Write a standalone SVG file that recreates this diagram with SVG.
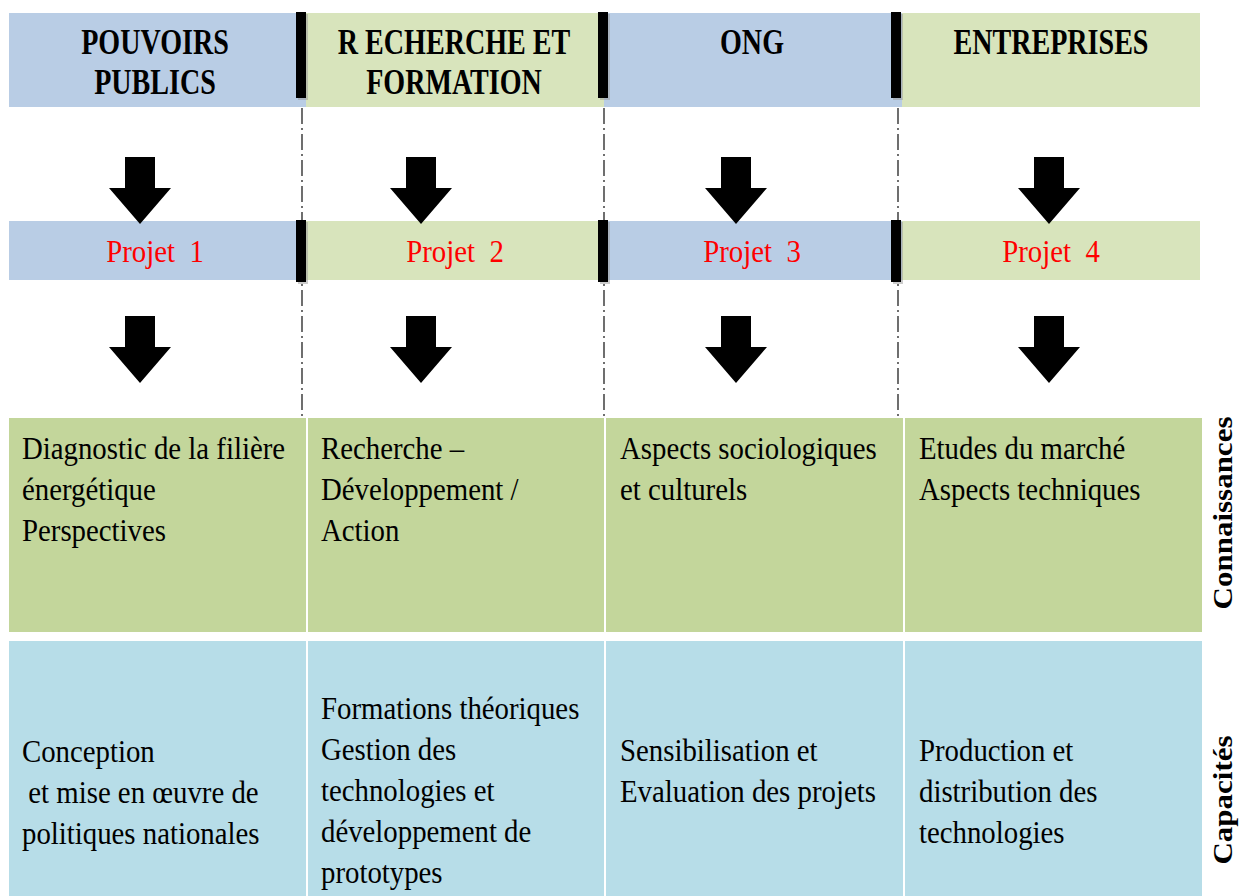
<svg xmlns="http://www.w3.org/2000/svg" xmlns:xlink="http://www.w3.org/1999/xlink" width="1245" height="896" viewBox="0 0 1245 896">
<style>
text{font-family:'Liberation Serif',serif}
.t{font-size:32px;fill:#000}
.hb{font-size:36px;font-weight:bold;fill:#000}
.pj{font-size:32px;fill:#ff0000;word-spacing:8px}
.side{font-size:31px;font-weight:bold;fill:#000}
.blue{fill:#b9cde5}
.green{fill:#d8e4bc}
.conn{fill:#c3d69b;stroke:#ffffff;stroke-width:2}
.cap{fill:#b7dde8;stroke:#ffffff;stroke-width:2}
.bar{fill:#000}
.shadow{fill:#9a9a9a;opacity:0.5}
.dd{stroke:#222;stroke-width:1.3;fill:none;stroke-dasharray:16 4 2 4}
</style>
<defs>
<path id="arrow" d="M-15,0 H15 V31 H31 L0,67 L-31,31 H-15 Z" fill="#000"/>
</defs>
<rect width="1245" height="896" fill="#ffffff"/>

<g id="connectors">
<line class="dd" x1="302" y1="108" x2="302" y2="416"/>
<line class="dd" x1="604" y1="108" x2="604" y2="416"/>
<line class="dd" x1="898" y1="108" x2="898" y2="416"/>
</g>

<g id="header-pouvoirs">
<rect class="blue" x="9" y="13" width="297" height="94"/>
<text class="hb" font-family="Liberation Serif, serif" text-anchor="middle" transform="translate(155,54) scale(0.78,1)"><tspan x="0" y="0">POUVOIRS</tspan><tspan x="0" y="40">PUBLICS</tspan></text>
</g>
<g id="header-recherche">
<rect class="green" x="306" y="13" width="298" height="94"/>
<text class="hb" font-family="Liberation Serif, serif" text-anchor="middle" transform="translate(454,54) scale(0.78,1)"><tspan x="0" y="0">R ECHERCHE ET</tspan><tspan x="0" y="40">FORMATION</tspan></text>
</g>
<g id="header-ong">
<rect class="blue" x="604" y="13" width="298" height="94"/>
<text class="hb" font-family="Liberation Serif, serif" text-anchor="middle" transform="translate(752,54) scale(0.78,1)">ONG</text>
</g>
<g id="header-entreprises">
<rect class="green" x="902" y="13" width="298" height="94"/>
<text class="hb" font-family="Liberation Serif, serif" text-anchor="middle" transform="translate(1051,54) scale(0.78,1)">ENTREPRISES</text>
</g>
<g id="header-bars">
<rect class="shadow" x="298" y="14" width="10" height="86"/>
<rect class="bar" x="296" y="12" width="10" height="86"/>
<rect class="shadow" x="600" y="14" width="10" height="86"/>
<rect class="bar" x="598" y="12" width="10" height="86"/>
<rect class="shadow" x="893" y="14" width="10" height="86"/>
<rect class="bar" x="891" y="12" width="10" height="86"/>
</g>

<g id="projet-1">
<rect class="blue" x="9" y="221" width="297" height="59"/>
<text class="pj" font-family="Liberation Serif, serif" text-anchor="middle" transform="translate(155,262) scale(0.9,1)">Projet 1</text>
</g>
<g id="projet-2">
<rect class="green" x="306" y="221" width="298" height="59"/>
<text class="pj" font-family="Liberation Serif, serif" text-anchor="middle" transform="translate(455,262) scale(0.9,1)">Projet 2</text>
</g>
<g id="projet-3">
<rect class="blue" x="604" y="221" width="298" height="59"/>
<text class="pj" font-family="Liberation Serif, serif" text-anchor="middle" transform="translate(752,262) scale(0.9,1)">Projet 3</text>
</g>
<g id="projet-4">
<rect class="green" x="902" y="221" width="298" height="59"/>
<text class="pj" font-family="Liberation Serif, serif" text-anchor="middle" transform="translate(1051,262) scale(0.9,1)">Projet 4</text>
</g>
<g id="projet-bars">
<rect class="shadow" x="298" y="222" width="10" height="62"/>
<rect class="bar" x="296" y="220" width="10" height="62"/>
<rect class="shadow" x="600" y="222" width="10" height="62"/>
<rect class="bar" x="598" y="220" width="10" height="62"/>
<rect class="shadow" x="893" y="222" width="10" height="62"/>
<rect class="bar" x="891" y="220" width="10" height="62"/>
</g>

<g id="arrows">
<use xlink:href="#arrow" x="140" y="157"/>
<use xlink:href="#arrow" x="421" y="157"/>
<use xlink:href="#arrow" x="736" y="157"/>
<use xlink:href="#arrow" x="1049" y="157"/>
<use xlink:href="#arrow" x="140" y="316"/>
<use xlink:href="#arrow" x="421" y="316"/>
<use xlink:href="#arrow" x="736" y="316"/>
<use xlink:href="#arrow" x="1049" y="316"/>
</g>

<g id="conn-1">
<rect class="conn" x="8" y="417" width="299" height="216"/>
<text class="t" font-family="Liberation Serif, serif" transform="translate(22,459) scale(0.9,1)"><tspan x="0" y="0">Diagnostic de la filière</tspan><tspan x="0" y="41">énergétique</tspan><tspan x="0" y="82">Perspectives</tspan></text>
</g>
<g id="conn-2">
<rect class="conn" x="307" y="417" width="298" height="216"/>
<text class="t" font-family="Liberation Serif, serif" transform="translate(321,459) scale(0.9,1)"><tspan x="0" y="0">Recherche –</tspan><tspan x="0" y="41">Développement /</tspan><tspan x="0" y="82">Action</tspan></text>
</g>
<g id="conn-3">
<rect class="conn" x="605" y="417" width="299" height="216"/>
<text class="t" font-family="Liberation Serif, serif" transform="translate(620,459) scale(0.9,1)"><tspan x="0" y="0">Aspects sociologiques</tspan><tspan x="0" y="41">et culturels</tspan></text>
</g>
<g id="conn-4">
<rect class="conn" x="904" y="417" width="299" height="216"/>
<text class="t" font-family="Liberation Serif, serif" transform="translate(919,459) scale(0.9,1)"><tspan x="0" y="0">Etudes du marché</tspan><tspan x="0" y="41">Aspects techniques</tspan></text>
</g>

<g id="cap-1">
<rect class="cap" x="8" y="640" width="299" height="260"/>
<text class="t" font-family="Liberation Serif, serif" transform="translate(22,762) scale(0.9,1)"><tspan x="0" y="0">Conception</tspan><tspan x="7" y="41">et mise en œuvre de</tspan><tspan x="0" y="82">politiques nationales</tspan></text>
</g>
<g id="cap-2">
<rect class="cap" x="307" y="640" width="298" height="260"/>
<text class="t" font-family="Liberation Serif, serif" transform="translate(321,719) scale(0.9,1)"><tspan x="0" y="0">Formations théoriques</tspan><tspan x="0" y="41">Gestion des</tspan><tspan x="0" y="82">technologies et</tspan><tspan x="0" y="123">développement de</tspan><tspan x="0" y="164">prototypes</tspan></text>
</g>
<g id="cap-3">
<rect class="cap" x="605" y="640" width="299" height="260"/>
<text class="t" font-family="Liberation Serif, serif" transform="translate(620,761) scale(0.9,1)"><tspan x="0" y="0">Sensibilisation et</tspan><tspan x="0" y="41">Evaluation des projets</tspan></text>
</g>
<g id="cap-4">
<rect class="cap" x="904" y="640" width="299" height="260"/>
<text class="t" font-family="Liberation Serif, serif" transform="translate(919,761) scale(0.9,1)"><tspan x="0" y="0">Production et</tspan><tspan x="0" y="41">distribution des</tspan><tspan x="0" y="82">technologies</tspan></text>
</g>

<g id="label-connaissances">
<text class="side" font-family="Liberation Serif, serif" text-anchor="middle" transform="translate(1232,513) scale(0.9,1) rotate(-90)">Connaissances</text>
</g>
<g id="label-capacites">
<text class="side" font-family="Liberation Serif, serif" text-anchor="middle" transform="translate(1232,800) scale(0.9,1) rotate(-90)">Capacités</text>
</g>
</svg>
